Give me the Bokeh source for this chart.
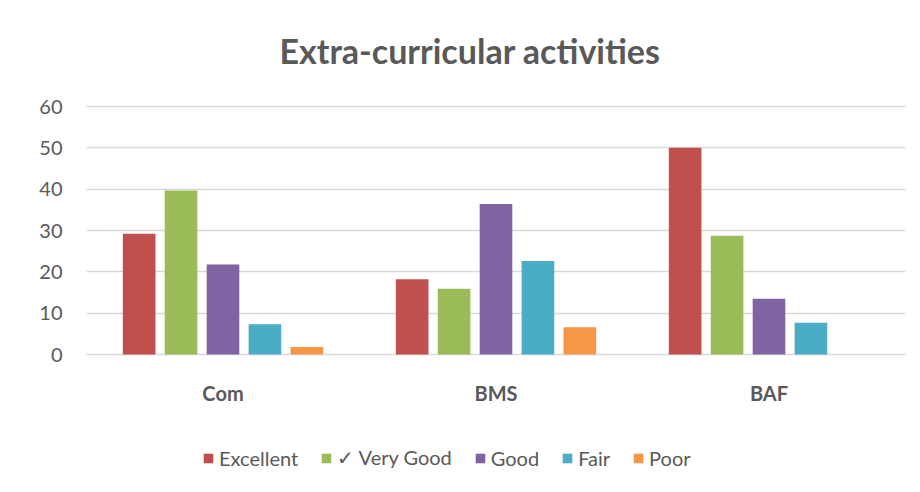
from bokeh.plotting import figure
from bokeh.models import FactorRange, Range1d, Label, FixedTicker, ColumnDataSource
from bokeh.transform import dodge
from bokeh.core.properties import value
from bokeh.embed import file_html
from bokeh.resources import INLINE

categories = ["Com", "BMS", "BAF"]
series = ["Excellent", "\u2713 Very Good", "Good", "Fair", "Poor"]
excellent = [29.2, 18.2, 50.0]
very_good = [39.7, 15.9, 28.7]
good = [21.8, 36.4, 13.5]
fair = [7.3, 22.6, 7.7]
poor = [1.8, 6.6, 0.0]
y_ticks = [0, 10, 20, 30, 40, 50, 60]
colors = ["#C0504D", "#9BBB59", "#8064A2", "#4BACC6", "#F79646"]

src = ColumnDataSource(dict(cat=categories, s0=excellent, s1=very_good, s2=good, s3=fair, s4=poor,
                            zero=[0, 0, 0]))

TEXT = "#595959"
FONT = "Lato"

# frame spans the full canvas height; 0..60 is placed where the reference has it
px_per_unit = 248 / 60.0
ymax = 60 + 106 / px_per_unit
ymin = -(484 - 354) / px_per_unit

p = figure(width=912, height=484, x_range=FactorRange(factors=categories, range_padding=0),
           y_range=Range1d(ymin, ymax), output_backend="svg", toolbar_location=None,
           x_axis_location=None,
           min_border_left=86, min_border_right=7, min_border_top=0, min_border_bottom=0)
p.outline_line_color = None

pitch = 0.1536
width = 0.1195
for i, (name, col) in enumerate(zip(series, colors)):
    p.vbar(x=dodge("cat", (i - 2) * pitch, range=p.x_range), top=f"s{i}", width=width,
           source=src, fill_color=col, line_color=None, legend_label=name)

p.xgrid.grid_line_color = None
p.ygrid.grid_line_color = "#D9D9D9"
p.ygrid.grid_line_width = 1.5
p.yaxis.ticker = FixedTicker(ticks=y_ticks)
p.yaxis.axis_line_color = None
p.yaxis.major_tick_line_color = None
p.yaxis.minor_tick_line_color = None
p.yaxis.major_tick_out = 0
p.yaxis.major_tick_in = 0
p.yaxis.major_label_text_color = TEXT
p.yaxis.major_label_text_font = FONT
p.yaxis.major_label_text_font_size = "20px"
p.yaxis.major_label_standoff = 24

# category labels under the groups
p.text(x="cat", y="zero", text="cat", source=src, text_align="center", text_baseline="middle",
       y_offset=38, text_font=value(FONT), text_font_size="20px", text_font_style="bold",
       text_color=TEXT)

title = Label(x=1.405, y=60 + (106 - 50) / px_per_unit, text="Extra-curricular activities",
              text_align="center", text_baseline="middle", text_font=FONT,
              text_font_size="34px", text_font_style="bold", text_color=TEXT)
p.add_layout(title)

lg = p.legend[0]
lg.orientation = "horizontal"
lg.location = (116, 14)
lg.padding = 0
lg.margin = 0
lg.spacing = 22
lg.glyph_width = 12
lg.glyph_height = 12
lg.label_standoff = 5
lg.label_text_font = FONT
lg.label_text_font_size = "20px"
lg.label_text_color = TEXT
lg.border_line_color = None
lg.background_fill_alpha = 0

open("out.html", "w").write(file_html(p, INLINE))
